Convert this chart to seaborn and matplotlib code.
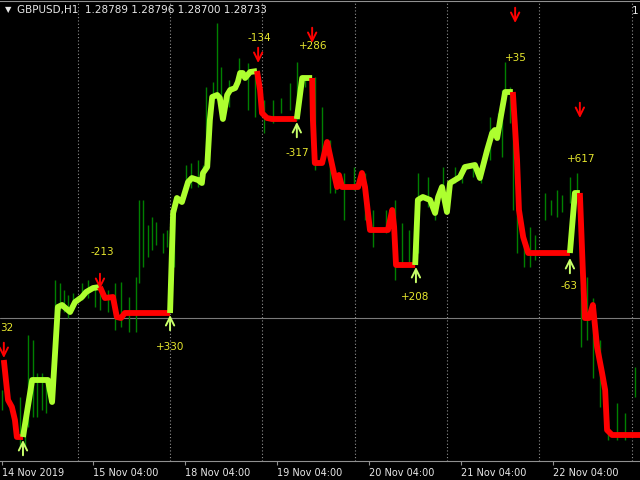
import matplotlib
matplotlib.use("Agg")
import matplotlib.pyplot as plt
import numpy as np
import pandas as pd
import seaborn as sns

# ==================== data ====================
# hourly bars, bar 0 = 14 Nov 04:00
tick_bar = [0.4, 24.4, 48.4, 72.4, 96.4, 120.4, 144.4]
tick_text = ["14 Nov 2019", "15 Nov 04:00", "18 Nov 04:00", "19 Nov 04:00",
             "20 Nov 04:00", "21 Nov 04:00", "22 Nov 04:00"]
grid_bar = [20.4, 44.4, 68.4, 92.6, 116.7, 140.7, 165.0]
bid_price = 1.28728

# trend line vertices (seg id -> direction)
trend_bar = [1.0, 2.1, 3.1, 3.9, 4.4, 6.0,
             6.0, 8.4, 12.5, 13.6, 15.1, 16.2, 18.3, 19.6, 21.4, 22.5, 24.3, 26.1,
             26.1, 27.4, 29.5, 30.5, 31.6, 32.6, 44.4,
             44.4, 45.2, 46.2, 47.5, 49.1, 50.1, 51.7, 52.7, 53.0, 54.1, 54.8, 55.4,
             56.7, 57.4, 58.2, 59.3, 60.1, 61.4, 62.1, 62.7, 63.4, 64.0, 65.3, 67.1,
             67.1, 67.9, 68.4, 69.7, 71.0, 77.5,
             77.5, 78.9, 81.5,
             81.5, 81.7, 82.2, 84.1, 85.4, 87.0, 88.0, 88.5, 89.3, 93.5, 94.5, 95.3,
             96.6, 101.3, 102.4, 102.9, 103.4, 108.4,
             108.4, 109.1, 110.4, 112.3, 113.6, 114.4, 115.4, 116.7, 117.5, 120.1,
             121.4, 124.0, 125.3, 127.2, 128.5, 129.2, 129.8, 130.6, 131.9, 133.9,
             133.9, 135.0, 135.5, 136.6, 137.9, 148.8,
             148.8, 150.1, 151.4,
             151.4, 152.2, 152.7, 153.8, 154.8, 155.9, 157.2, 158.0, 158.5, 159.8, 167.1]
trend_price = [1.2856, 1.2840, 1.28372, 1.2832, 1.28252, 1.28252,
               1.28252, 1.2848, 1.2848, 1.28392, 1.28772, 1.2878, 1.28752, 1.28792,
               1.28812, 1.28832, 1.28848, 1.28852,
               1.28852, 1.28808, 1.28812, 1.28732, 1.28728, 1.28748, 1.28748,
               1.28748, 1.29148, 1.29208, 1.29192, 1.29272, 1.29288, 1.2928, 1.29268,
               1.29308, 1.29332, 1.2952, 1.29612, 1.2962, 1.29608, 1.29524, 1.2962,
               1.2964, 1.29648, 1.29672, 1.29708, 1.29708, 1.29688, 1.29712, 1.29716,
               1.29716, 1.2964, 1.29548, 1.29528, 1.29524, 1.29524,
               1.29524, 1.29688, 1.29688,
               1.29688, 1.2952, 1.29348, 1.29348, 1.29432, 1.2932, 1.29252, 1.293,
               1.29252, 1.29252, 1.29308, 1.29252, 1.2908, 1.2908, 1.2916, 1.29092,
               1.2894, 1.2894,
               1.2894, 1.292, 1.29212, 1.292, 1.29148, 1.29212, 1.29252, 1.29152,
               1.29268, 1.29292, 1.29332, 1.2934, 1.29288, 1.294, 1.29468, 1.2948,
               1.29448, 1.2952, 1.29632, 1.29632,
               1.29632, 1.2936, 1.2916, 1.29052, 1.28988, 1.28988,
               1.28988, 1.29228, 1.29228,
               1.29228, 1.28908, 1.28728, 1.28728, 1.2878, 1.28612, 1.28508, 1.2844,
               1.2828, 1.2826, 1.2826]
seg_len = [6, 12, 7, 24, 6, 3, 18, 20, 6, 3, 11]
seg_dir = ["down", "up", "down", "up", "down", "up", "down", "up", "down", "up", "down"]

# candle high/low lines
candle_bar = [0.5, 5.2, 6.5, 7.3, 8.6, 9.7, 11.0, 12.0, 14.4, 15.7, 16.7, 17.8, 19.1,
              21.4, 23.0, 24.8, 26.1, 28.2, 30.0, 31.6, 33.7, 35.5, 36.3, 37.3, 38.6,
              39.7, 40.7, 42.6, 43.6, 45.4, 48.6, 49.9, 51.7, 53.0, 53.8, 54.6, 55.6,
              56.7, 57.7, 59.8, 62.4, 64.8, 66.6, 68.9, 71.3, 73.4, 75.7, 77.5, 79.6,
              82.2, 84.1, 86.2, 87.5, 89.8, 92.4, 95.3, 97.4, 100.8, 103.1, 105.0,
              106.8, 109.1, 111.7, 113.6, 115.7, 118.8, 120.6, 123.5, 125.6, 127.9,
              130.0, 131.1, 131.9, 133.2, 133.9, 135.0, 136.8, 138.4, 139.7, 142.3,
              143.9, 145.4, 146.7, 148.8, 150.7, 151.7, 153.3, 154.8, 156.7, 158.7,
              161.1, 163.2, 165.8]
candle_high = [1.2844, 1.28412, 1.2836, 1.2866, 1.2864, 1.28508, 1.28508, 1.2846, 1.2888,
               1.28868, 1.2884, 1.2882, 1.28828, 1.28868, 1.2888, 1.28848, 1.2886,
               1.2884, 1.28868, 1.28872, 1.28812, 1.28892, 1.292, 1.292, 1.291,
               1.29132, 1.29112, 1.29068, 1.2908, 1.2912, 1.2934, 1.29348, 1.2936,
               1.2934, 1.29652, 1.2956, 1.29672, 1.29908, 1.29732, 1.2968, 1.29768,
               1.29748, 1.2972, 1.296, 1.296, 1.29608, 1.29668, 1.29752, 1.29692,
               1.29692, 1.29572, 1.2944, 1.29308, 1.29308, 1.29332, 1.29308, 1.2916,
               1.2916, 1.292, 1.29108, 1.2908, 1.29308, 1.29292, 1.292, 1.29332,
               1.29332, 1.2934, 1.29348, 1.29332, 1.29532, 1.29548, 1.2964, 1.29752,
               1.29652, 1.29628, 1.2928, 1.2904, 1.29092, 1.2906, 1.29228, 1.292,
               1.2924, 1.2922, 1.29292, 1.29308, 1.28852, 1.28892, 1.28808, 1.2864,
               1.2832, 1.28388, 1.28348, 1.28532]
candle_low = [1.2836, 1.28212, 1.28212, 1.28292, 1.28332, 1.28332, 1.2836, 1.28348,
              1.2872, 1.2876, 1.28752, 1.28728, 1.2876, 1.288, 1.28808, 1.28772,
              1.2876, 1.28752, 1.2868, 1.28692, 1.28672, 1.28672, 1.28868, 1.28932,
              1.28972, 1.29, 1.2902, 1.28988, 1.29012, 1.28932, 1.2924, 1.29248,
              1.29252, 1.2926, 1.29332, 1.2936, 1.29588, 1.296, 1.2952, 1.29572,
              1.29668, 1.2956, 1.29532, 1.29468, 1.29508, 1.29548, 1.2956, 1.2952,
              1.29652, 1.2932, 1.2936, 1.29228, 1.29228, 1.2912, 1.2924, 1.2912,
              1.29012, 1.29068, 1.2888, 1.28932, 1.2894, 1.28988, 1.29172, 1.2912,
              1.29212, 1.29268, 1.29268, 1.29292, 1.29268, 1.2936, 1.2944, 1.29372,
              1.296, 1.29508, 1.2916, 1.28988, 1.28932, 1.28932, 1.2896, 1.2912,
              1.2914, 1.29132, 1.29152, 1.29188, 1.29228, 1.28612, 1.2864, 1.28488,
              1.28372, 1.2824, 1.2824, 1.2824, 1.28412]

# signal arrows (tip positions)
sell_bar = [1.0, 26.1, 67.4, 81.5, 134.5, 151.4]
sell_price = [1.28568, 1.28844, 1.29748, 1.29828, 1.29908, 1.29528]
buy_bar = [6.0, 44.4, 77.5, 108.6, 148.8]
buy_price = [1.2824, 1.2874, 1.29512, 1.28932, 1.28968]

# result labels (points)
result_text = ["-213", "+330", "-134", "+286", "-317", "+208", "+35", "+617", "-63"]
result_bar = [26.6, 44.4, 67.6, 81.7, 77.5, 108.4, 134.7, 151.7, 148.6]
result_price = [1.28992, 1.28612, 1.29848, 1.29816, 1.29388, 1.28812, 1.29768,
                1.29364, 1.28856]

# ==================== plot ====================
sns.set_theme(style="dark", rc={"axes.facecolor": "black", "figure.facecolor": "black"})
plt.rcParams["font.family"] = ["DejaVu Sans"]

up_color = "#adff2f"
down_color = "#ff0000"
label_color = "#e6e62e"

fig = plt.figure(figsize=(6.4, 4.8), dpi=100)
ax = fig.add_axes([0, 19 / 480, 1, 460 / 480])

# grid and bid line
for gb in grid_bar:
    ax.axvline(gb, color="#909090", lw=0.8, ls=(0, (1, 2)), zorder=1)
ax.axhline(bid_price, color="#7a7a7a", lw=0.8, zorder=1)

# candles
ax.vlines(candle_bar, candle_low, candle_high, color="#008000", lw=1, zorder=2)

# trend line
trend_seg = np.repeat(np.arange(len(seg_len)), seg_len)
df = pd.DataFrame({"bar": trend_bar, "price": trend_price, "seg": trend_seg})
palette = {i: (up_color if d == "up" else down_color) for i, d in enumerate(seg_dir)}
sns.lineplot(data=df, x="bar", y="price", hue="seg", palette=palette, estimator=None,
             sort=False, legend=False, linewidth=4.2, ax=ax, zorder=3,
             solid_joinstyle="round", solid_capstyle="butt")

# arrows
for b, p in zip(sell_bar, sell_price):
    ax.annotate("", xy=(b, p), xytext=(0, 11), textcoords="offset points",
                arrowprops=dict(arrowstyle="->", color=down_color, lw=1.4,
                                mutation_scale=15, shrinkA=0, shrinkB=0), zorder=4)
for b, p in zip(buy_bar, buy_price):
    ax.annotate("", xy=(b, p), xytext=(0, -11), textcoords="offset points",
                arrowprops=dict(arrowstyle="->", color="#c8ff6a", lw=1.4,
                                mutation_scale=15, shrinkA=0, shrinkB=0), zorder=4)

for t, b, p in zip(result_text, result_bar, result_price):
    ax.text(b, p, t, color=label_color, fontsize=7.5, ha="center", va="center", zorder=5)
ax.text(0.1, 1.28688, "32", color=label_color, fontsize=7.5, ha="left", va="center")

ax.set_xlim(0, 167.1)
ax.set_ylim(1.28156, 1.29996)
ax.set_xticks(tick_bar, tick_text)
for lbl in ax.get_xticklabels():
    lbl.set_horizontalalignment("left")
ax.set_yticks([])
ax.set_xlabel("")
ax.set_ylabel("")
ax.tick_params(axis="x", colors="#909090", labelcolor="#e8e8e8", labelsize=7,
               length=3, width=0.8, pad=2, bottom=True)
for side in ["left", "right"]:
    ax.spines[side].set_visible(False)
for side in ["top", "bottom"]:
    ax.spines[side].set_color("#909090")
    ax.spines[side].set_linewidth(0.8)

fig.text(8 / 640, 1 - 10 / 480, "\u25bc", color="#e8e8e8", fontsize=6, ha="center", va="center")
fig.text(17 / 640, 1 - 10 / 480, "GBPUSD,H1  1.28789 1.28796 1.28700 1.28733",
         color="#e8e8e8", fontsize=7.5, ha="left", va="center")
fig.text(632 / 640, 1 - 11 / 480, "1", color="#e8e8e8", fontsize=7.5, ha="left", va="center")

fig.savefig("out.png", dpi=100, facecolor="black")
